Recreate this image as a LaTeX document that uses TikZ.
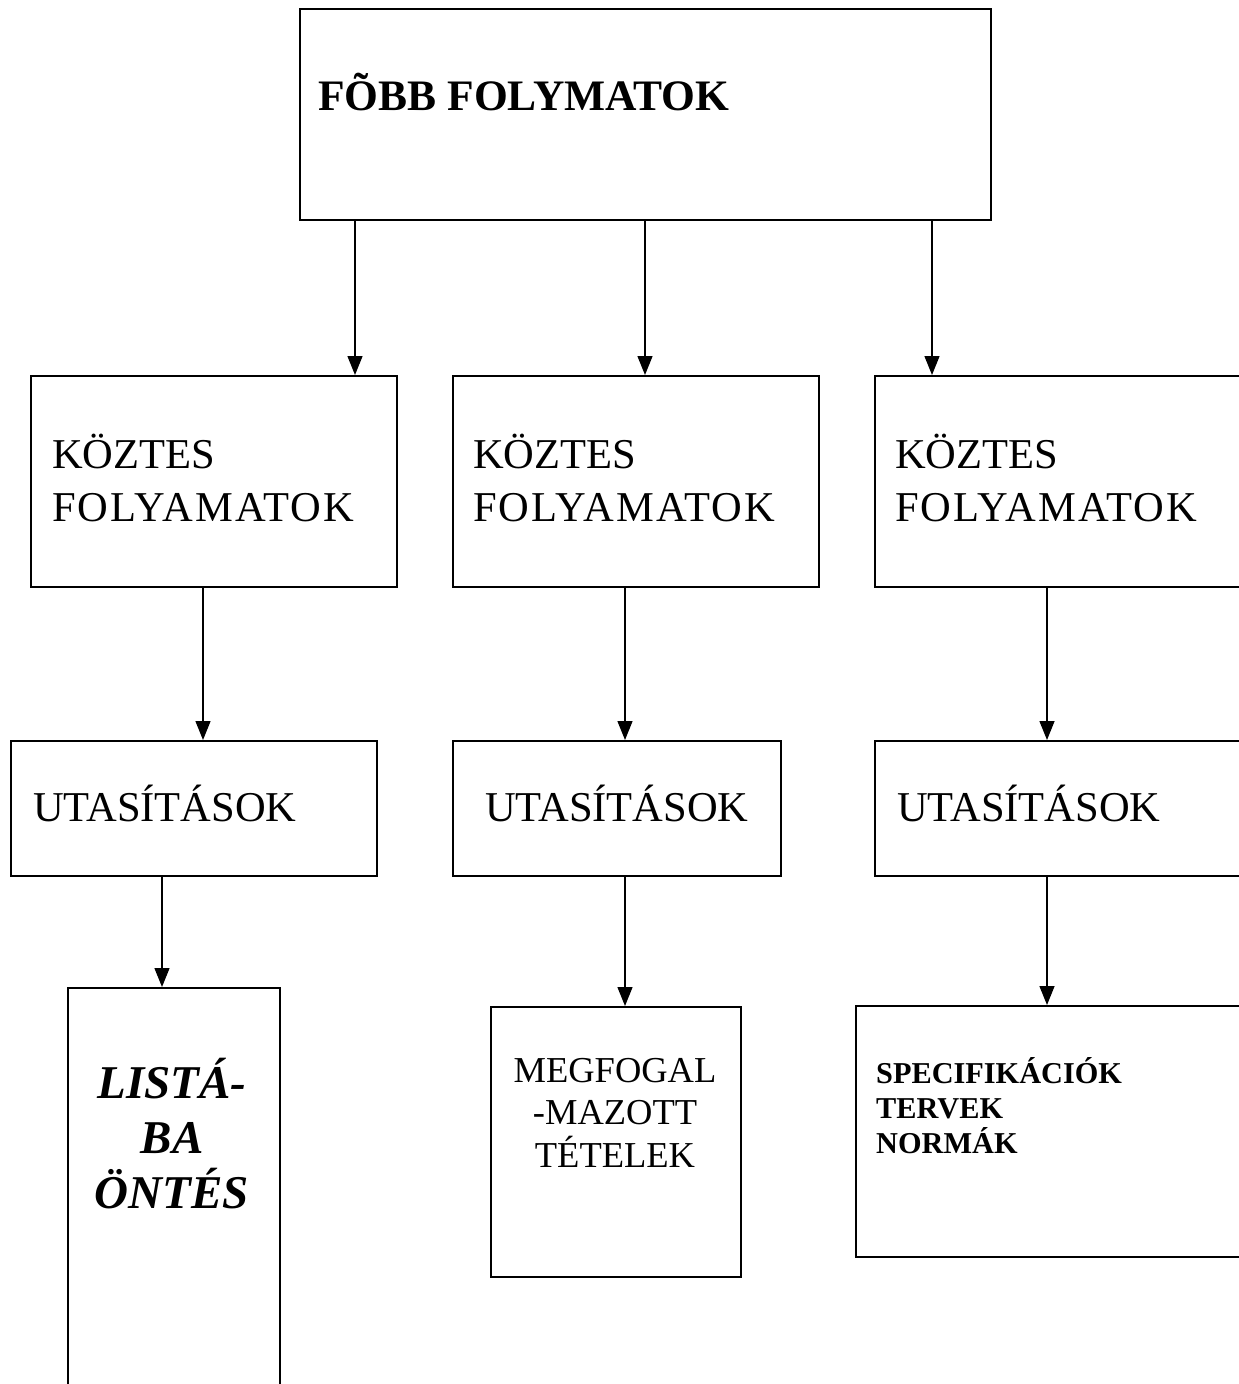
\documentclass[tikz,border=0pt]{standalone}
\usepackage{fontspec}
\setmainfont{Liberation Serif}
\newfontfamily\widefont[LetterSpace=5]{Liberation Serif}
\usetikzlibrary{arrows.meta}
\begin{document}
\begin{tikzpicture}[x=1pt,y=-1pt,
  box/.style={draw, line width=1.9pt, rectangle, inner sep=0pt, anchor=north west},
  arr/.style={line width=1.4pt, -{Triangle[length=19pt,width=15pt]}},
  txt/.style={inner sep=0pt, anchor=base west, align=left},
  ctxt/.style={inner sep=0pt, anchor=base, align=center},
]
\useasboundingbox (0,0) rectangle (1239,1384);
\fill[white] (0,0) rectangle (1239,1384);
\clip (0,0) rectangle (1239,1384);

% top level (text nodes are placed at the baseline of their last line)
\node[box, minimum width=691pt, minimum height=211pt] (top) at (299,8) {};
\node[txt, font=\fontsize{43.5}{50}\selectfont\bfseries] (toptxt) at (318,110) {FÕBB FOLYMATOK};

% intermediate processes
\node[box, minimum width=366pt, minimum height=211pt] (k1) at (30,375) {};
\node[box, minimum width=366pt, minimum height=211pt] (k2) at (452,375) {};
\node[box, minimum width=420pt, minimum height=211pt] (k3) at (874,375) {};
\node[txt, font=\fontsize{42.5}{53}\selectfont] (k1t) at (52,521) {KÖZTES\\{\widefont FOLYAMATOK}};
\node[txt, font=\fontsize{42.5}{53}\selectfont] (k2t) at (473,521) {KÖZTES\\{\widefont FOLYAMATOK}};
\node[txt, font=\fontsize{42.5}{53}\selectfont] (k3t) at (895,521) {KÖZTES\\{\widefont FOLYAMATOK}};

% instructions
\node[box, minimum width=366pt, minimum height=135pt] (u1) at (10,740) {};
\node[box, minimum width=328pt, minimum height=135pt] (u2) at (452,740) {};
\node[box, minimum width=420pt, minimum height=135pt] (u3) at (874,740) {};
\node[txt, font=\fontsize{42.5}{53}\selectfont] (u1t) at (33,821) {UTASÍTÁSOK};
\node[txt, font=\fontsize{42.5}{53}\selectfont] (u2t) at (485,821) {UTASÍTÁSOK};
\node[txt, font=\fontsize{42.5}{53}\selectfont] (u3t) at (897,821) {UTASÍTÁSOK};

% results
\node[box, minimum width=212pt, minimum height=460pt] (b1) at (67,987) {};
\node[box, minimum width=250pt, minimum height=270pt] (b2) at (490,1006) {};
\node[box, minimum width=440pt, minimum height=251pt] (b3) at (855,1005) {};
\node[ctxt, font=\fontsize{47}{55}\selectfont\bfseries\itshape] (b1t) at (172,1208) {LISTÁ-\\BA\\ÖNTÉS};
\node[ctxt, font=\fontsize{36.5}{42.5}\selectfont] (b2t) at (615,1167) {MEGFOGAL\\-MAZOTT\\TÉTELEK};
\node[txt, font=\fontsize{30.3}{35}\selectfont\bfseries] (b3t) at (876,1153) {SPECIFIKÁCIÓK\\TERVEK\\NORMÁK};

% connectors
\draw[arr] (top.south -| 355,0) -- (k1.north -| 355,0);
\draw[arr] (top.south -| 645,0) -- (k2.north -| 645,0);
\draw[arr] (top.south -| 932,0) -- (k3.north -| 932,0);

\draw[arr] (k1.south -| 203,0) -- (u1.north -| 203,0);
\draw[arr] (k2.south -| 625,0) -- (u2.north -| 625,0);
\draw[arr] (k3.south -| 1047,0) -- (u3.north -| 1047,0);

\draw[arr] (u1.south -| 162,0) -- (b1.north -| 162,0);
\draw[arr] (u2.south -| 625,0) -- (b2.north -| 625,0);
\draw[arr] (u3.south -| 1047,0) -- (b3.north -| 1047,0);
\end{tikzpicture}
\end{document}
